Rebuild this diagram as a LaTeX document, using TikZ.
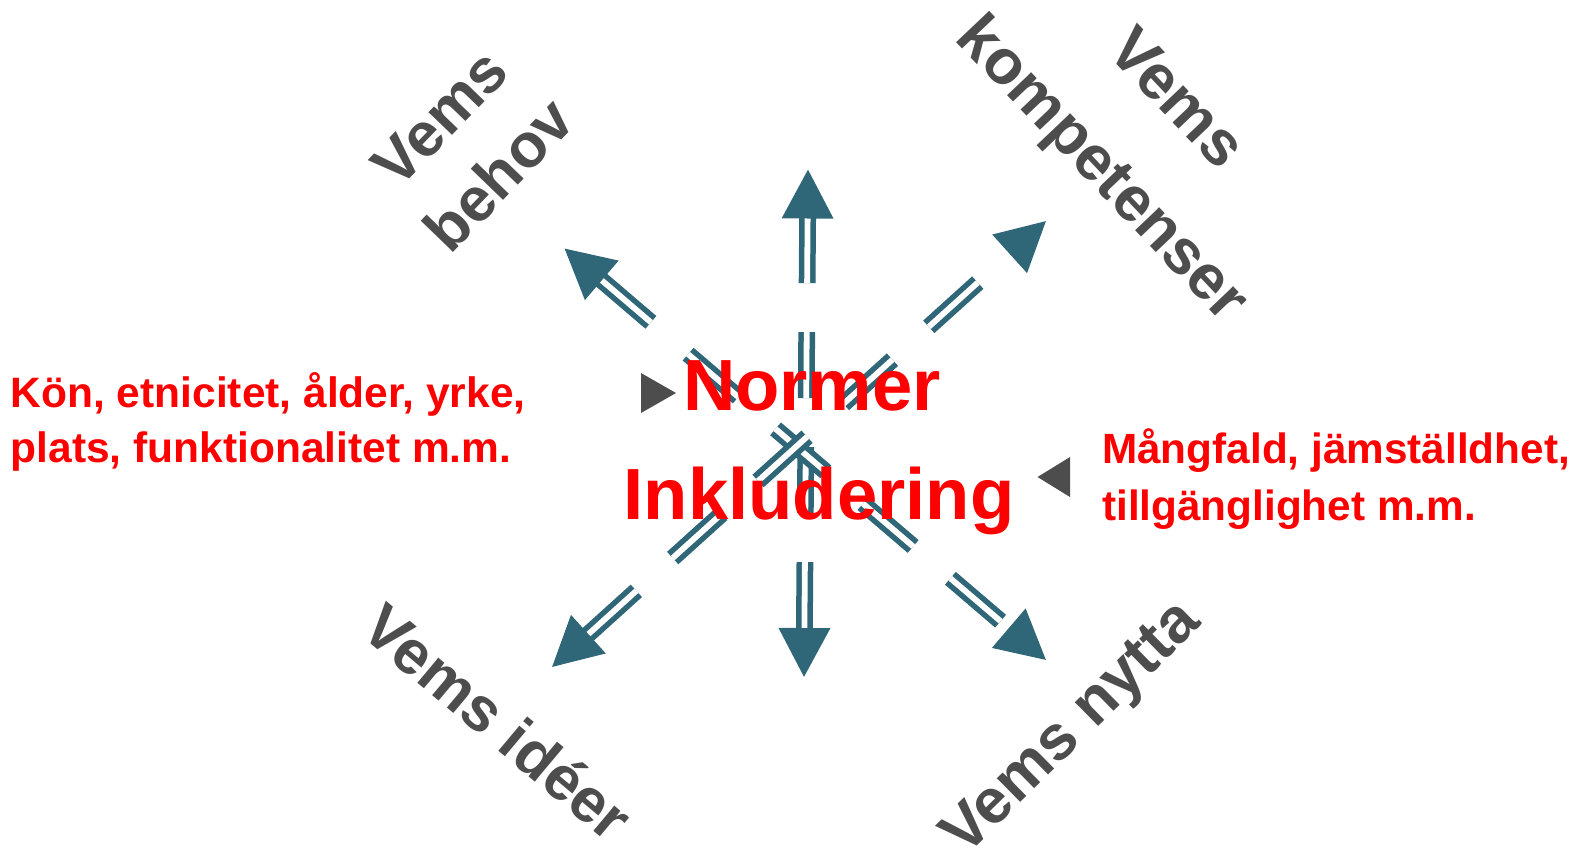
\documentclass[tikz,border=0pt]{standalone}
\usepackage{fontspec}
\setmainfont{Liberation Sans}
\usetikzlibrary{arrows.meta}

\definecolor{pilfarg}{RGB}{47,102,120}
\definecolor{gra}{RGB}{77,77,77}

\begin{document}
\begin{tikzpicture}[x=1pt, y=-1pt,
  pilar/.style = {draw=pilfarg, line width=5.5pt, double=white, double distance=5.8pt,
    dash pattern=on 66pt off 49pt,
    arrows={Triangle[length=49pt,width=50.5pt]-Triangle[length=49pt,width=50.5pt]}},
  vems/.style = {text=gra, align=center, inner sep=0pt},
  rod/.style = {text=red, align=left, inner sep=0pt}]
\useasboundingbox (0,0) rectangle (1581,847);

% pilarna
\coordinate (opp) at (808,169.5); \coordinate (ned) at (804,677);
\coordinate (nv) at (564.5,248.5); \coordinate (so) at (1046,660);
\coordinate (no) at (1046,221);    \coordinate (sv) at (552,667);
\draw[pilar] (opp) -- (ned);
\draw[pilar] (nv) -- (so);
\draw[pilar] (sv) -- (no);

% vems ...
\node[vems, rotate=46, font=\fontsize{62}{82}\selectfont\bfseries] (behov) at (469.5,146.5) {Vems\\behov};
\node[vems, rotate=-46.5, font=\fontsize{63}{101.5}\selectfont\bfseries] (komp) at (1136.7,136.4) {Vems\\kompetenser};
\node[vems, rotate=-40, anchor=base, font=\fontsize{62}{74}\selectfont\bfseries] (ideer) at (484,739) {Vems idéer};
\node[vems, rotate=44.5, anchor=base, font=\fontsize{63}{74}\selectfont\bfseries] (nytta) at (1083.8,740.9) {Vems nytta};

% markorer
\fill[gra] (641,373) -- (676,393) -- (641,413) -- cycle;
\fill[gra] (1070,457) -- (1037.5,477) -- (1070,497) -- cycle;

% texter
\node[rod, anchor=west, font=\fontsize{42.5}{54.5}\selectfont\bfseries] (vanster) at (10.5,421.7)
  {Kön, etnicitet, ålder, yrke,\\plats, funktionalitet m.m.};
\node[rod, anchor=west, font=\fontsize{42.3}{56.8}\selectfont\bfseries] (hoger) at (1102,478.9)
  {Mångfald, jämställdhet,\\tillgänglighet m.m.};
\node[text=red, align=center, inner sep=0pt, font=\fontsize{72.5}{108.5}\selectfont\bfseries] (normer) at (819,447.9)
  {Normer\kern14pt\\Inkludering};
\end{tikzpicture}
\end{document}
